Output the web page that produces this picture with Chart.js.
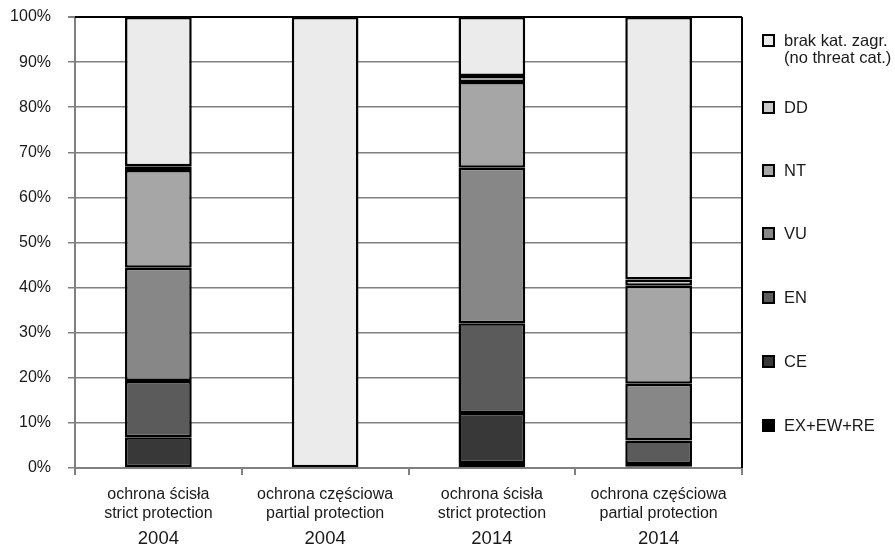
<!DOCTYPE html>
<html>
<head>
<meta charset="utf-8">
<script src="https://cdn.jsdelivr.net/npm/chart.js@4.4.1/dist/chart.umd.min.js"></script>
<style>
html,body{margin:0;padding:0;background:#fff;}
#wrap{position:relative;width:895px;height:545px;}
#legend{position:absolute;left:762px;top:0;font-family:'Liberation Sans',Arial,sans-serif;font-size:16.5px;line-height:17px;color:#1a1a1a;}
.item{position:absolute;left:0;display:flex;align-items:flex-start;white-space:nowrap;}
.box{width:9px;height:9px;border:2px solid #000;margin:2px 9px 0 0;flex:none;}
</style>
</head>
<body>
<div id="wrap"><canvas id="c" width="895" height="545"></canvas><div id="legend"></div></div>
<script>
// categories (two-line labels) and years below them
const CATEGORIES=[['ochrona ścisła','strict protection'],['ochrona częściowa','partial protection'],['ochrona ścisła','strict protection'],['ochrona częściowa','partial protection']];
const YEARS=['2004','2004','2014','2014'];
const Y_TICKS=[0,10,20,30,40,50,60,70,80,90,100];

// share of species per threat category, %
const SERIES_NAMES=['EX+EW+RE','CE','EN','VU','NT','DD',['brak kat. zagr.','(no threat cat.)']];
const EX=[0,0,1.1,0.3];
const CE=[6.8,0,11.1,0.6];
const EN=[12.5,0,19.9,5.2];
const VU=[25.1,0,34.5,12.6];
const NT=[21.7,0,19.0,21.7];
const DD=[0.8,0,1.3,1.4];
const NONE=[33.1,100,13.1,58.2];
const COLORS=['#000000','#383838','#5b5b5b','#878787','#a6a6a6','#c9c9c9','#ebebeb'];

const VALUES=[EX,CE,EN,VU,NT,DD,NONE];

const datasets=VALUES.map((v,i)=>({
  label:Array.isArray(SERIES_NAMES[i])?SERIES_NAMES[i].join(' '):SERIES_NAMES[i],
  data:v.map(x=>x||null),
  backgroundColor:COLORS[i],
  borderColor:'#000',
  borderWidth:2.5,
  borderSkipped:false,
  inflateAmount:0,
  xAxisID:'x',
  barPercentage:0.4,
  categoryPercentage:1
}));

// black top and right edges of the plot box
const frame={
  id:'frame',
  afterDatasetsDraw(chart){
    const {ctx,chartArea:a}=chart;
    ctx.save();
    ctx.strokeStyle='#000';ctx.lineWidth=2;
    ctx.beginPath();
    ctx.moveTo(a.left,a.top);ctx.lineTo(a.right,a.top);
    ctx.moveTo(a.right,a.top);ctx.lineTo(a.right,a.bottom);
    ctx.stroke();
    ctx.restore();
  }
};

const FONT="'Liberation Sans', Arial, sans-serif";
new Chart(document.getElementById('c'),{
  type:'bar',
  data:{labels:CATEGORIES,datasets},
  options:{
    responsive:false,animation:false,
    layout:{padding:{top:17,right:153,bottom:0,left:0}},
    plugins:{legend:{display:false},tooltip:{enabled:false}},
    scales:{
      x:{
        stacked:true,
        afterFit(s){s.height=53.5;},
        grid:{drawOnChartArea:false,tickLength:7,color:'#808080',lineWidth:2},
        border:{color:'#808080',width:2},
        ticks:{color:'#1a1a1a',font:{family:FONT,size:16,lineHeight:1.2},padding:9.5,maxRotation:0,autoSkip:false}
      },
      x2:{
        type:'category',labels:YEARS,position:'bottom',
        grid:{display:false,drawTicks:false,tickLength:0},border:{display:false},
        afterFit(s){s.height=23.5;},
        ticks:{color:'#1a1a1a',font:{family:FONT,size:18.5,lineHeight:1},padding:8,maxRotation:0,autoSkip:false}
      },
      y:{
        stacked:true,min:0,max:100,
        afterBuildTicks(s){s.ticks=Y_TICKS.map(v=>({value:v}));},
        afterFit(s){s.width=75;s.paddingTop=0;s.paddingBottom=0;},
        grid:{color:c=>c.tick&&c.tick.value===100?'#000':'#808080',lineWidth:c=>c.tick&&c.tick.value===100?2:1.5,tickColor:'#808080',tickLength:7},
        border:{color:'#808080',width:2},
        ticks:{color:'#1a1a1a',font:{family:FONT,size:16},padding:17,callback:v=>v+'%'}
      }
    }
  },
  plugins:[frame]
});

// legend, top entry first
const LEGEND_TOPS=[31.5,98.5,161.5,224.5,288.5,352.5,416.5];
const lg=document.getElementById('legend');
for(let k=0;k<SERIES_NAMES.length;k++){
  const i=SERIES_NAMES.length-1-k;
  const it=document.createElement('div');
  it.className='item';it.style.top=LEGEND_TOPS[k]+'px';
  const b=document.createElement('div');b.className='box';b.style.background=COLORS[i];
  const t=document.createElement('div');
  const n=SERIES_NAMES[i];
  t.innerHTML=(Array.isArray(n)?n:[n]).join('<br>');
  it.appendChild(b);it.appendChild(t);lg.appendChild(it);
}
</script>
</body>
</html>
